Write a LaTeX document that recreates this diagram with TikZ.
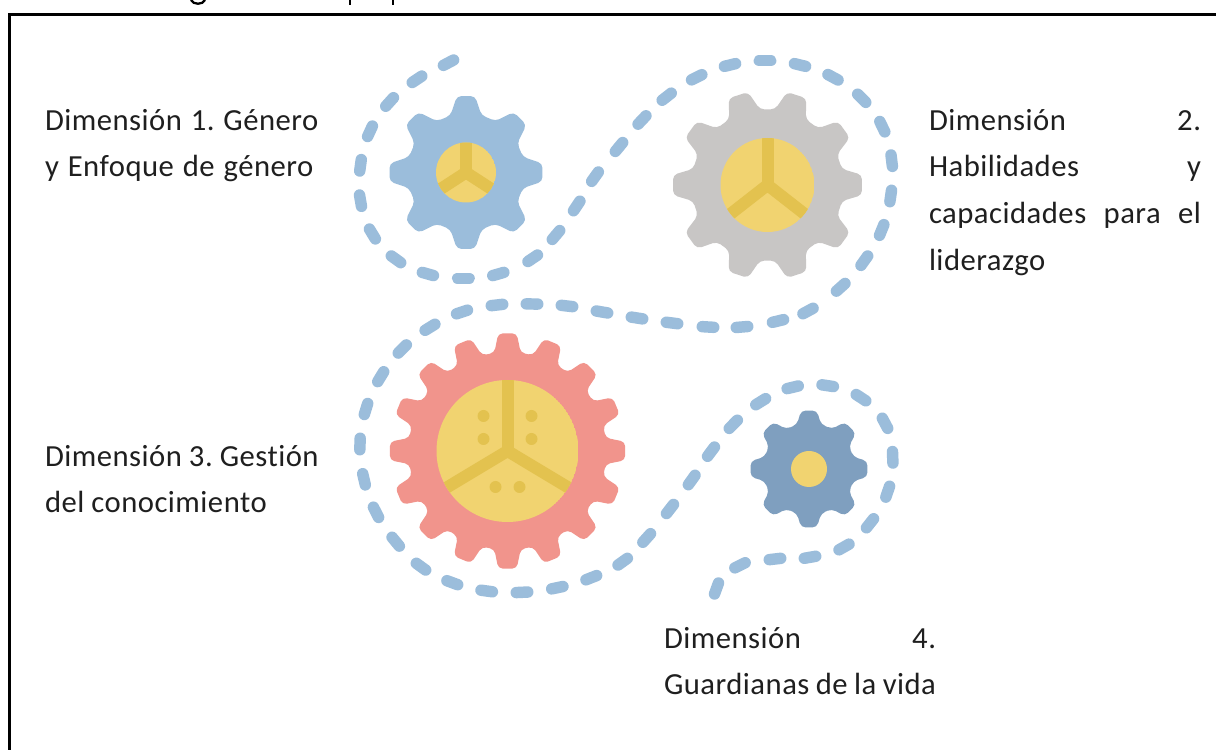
\documentclass[tikz,border=0pt]{standalone}
\usepackage{fontspec}
\setmainfont[LetterSpace=1.6,Ligatures=NoCommon]{Carlito}
\definecolor{dashblue}{HTML}{9BBDDB}
\definecolor{gearblue}{HTML}{9BBDDB}
\definecolor{geargray}{HTML}{C8C6C5}
\definecolor{gearred}{HTML}{F1948C}
\definecolor{gearsteel}{HTML}{7F9FBF}
\definecolor{hubyellow}{HTML}{F1D370}
\definecolor{hubdark}{HTML}{E3C24F}
\tikzset{
  trail/.style={draw=dashblue,line width=8.6pt,line cap=round},
  label/.style={anchor=north west,inner sep=0pt,outer sep=0pt,text width=#1,align=justify,font=\fontsize{23}{35}\selectfont\frenchspacing,text=black!88},
  spoke/.style={draw=hubdark,line cap=butt}
}
% cx cy outer root teeth colour start-angle tip-fraction
\newcommand{\gearshape}[8]{%
  \pgfmathsetmacro{\gstep}{360/#5}%
  \fill[#6,rounded corners=3.4pt]
    ({#1+#4*cos(#7-\gstep*0.5)},{#2-#4*sin(#7-\gstep*0.5)})
    \foreach \k in {1,...,#5}{
      -- ({#1+#4*cos(#7+(\k-1)*\gstep-\gstep*0.34)},{#2-#4*sin(#7+(\k-1)*\gstep-\gstep*0.34)})
      -- ({#1+#3*cos(#7+(\k-1)*\gstep-\gstep*#8)},{#2-#3*sin(#7+(\k-1)*\gstep-\gstep*#8)})
      -- ({#1+#3*cos(#7+(\k-1)*\gstep+\gstep*#8)},{#2-#3*sin(#7+(\k-1)*\gstep+\gstep*#8)})
      -- ({#1+#4*cos(#7+(\k-1)*\gstep+\gstep*0.34)},{#2-#4*sin(#7+(\k-1)*\gstep+\gstep*0.34)})
    } -- cycle;}
% cx cy radius spokewidth armangle
\newcommand{\hub}[5]{%
  \begin{scope}
    \clip (#1,#2) circle[radius=#3];
    \fill[hubyellow] (#1,#2) circle[radius=#3];
    \draw[spoke,line width=#4*0.75pt]
      (#1,#2-#3) -- (#1,#2) ;
    \draw[spoke,line width=#4*0.75pt,line join=miter]
      ({#1-#3*cos(#5)*1.2},{#2+#3*sin(#5)*1.2}) -- (#1,#2) -- ({#1+#3*cos(#5)*1.2},{#2+#3*sin(#5)*1.2});
  \end{scope}}
\begin{document}
\begin{tikzpicture}[x=0.75pt,y=0.75pt]
\useasboundingbox (0,0) rectangle (1216,749);
\begin{scope}[yscale=-1,shift={(0,-749)}]
\clip (0,0) rectangle (1216,749);
\fill[white] (0,0) rectangle (1216,749);
% tails of a cropped heading above the frame
\draw[black,line width=1.7pt] (191,0) .. controls (193,5) and (203,5) .. (205,0);
\draw[black,line width=1.7pt] (350,0) -- (350,5);
\draw[black,line width=1.7pt] (393,0) -- (393,5);
\draw[black,line width=2.1pt] (9.5,760) -- (9.5,14.7) -- (1230,14.7);
\foreach \cx/\cy [remember=\bx as \ax (initially 448.5),remember=\by as \ay (initially 62.7),remember=\cx as \bx (initially 448.5),remember=\cy as \by (initially 62.7)] in {
 417/79.3,389.6/102,370/131.3,360.5/165.3,360.5/200.7,372.4/234,396/259.3,427.9/274,463.4/278.3,498.3/274,532.7/258.3,556/235,576.7/206,595/176.7,619/147,642/120,666.7/96.7,696.7/77.3,730/65,765/60.7,800/65,833/77.3,861.7/98.3,882.3/126.7,891.7/160.7,890.7/196,881.7/230,864.3/260.7,840.7/287.3,808/311,778/321,742/327,708/327,672/323,637/318,602/312,567/306,532/304,497/305,462/312,430/327.3,402.3/349,380.7/376.7,366/409,360/444,364/479.3,376/512.3,395.7/541.7,421/566.7,452.3/582.7,486.7/591,522/592.3,557.3/587.7,591.3/577.7,622.7/561.7,646.7/538,670/509,691.7/480,711/451.7,733.3/424.3,760.7/401.7,792.7/387.3,827.7/385.7,861/397.7,885/423.3,892.7/457.3,887.7/491.7,870/523.3,844/547,810/557.3,775/559,740/565.3,716/588.3}{
  \pgfmathsetmacro{\ang}{atan2(\cy-\ay,\cx-\ax)}
  \draw[trail] ({\bx-5.75*cos(\ang)},{\by-5.75*sin(\ang)}) -- ({\bx+5.75*cos(\ang)},{\by+5.75*sin(\ang)});
}
\draw[trail] (718.5,583) -- (714.5,594);
\gearshape{466}{172.5}{77}{59}{8}{gearblue}{90}{0.15}
\hub{466}{172.5}{30}{12}{33}
\gearshape{767.5}{185}{95}{76}{10}{geargray}{0}{0.17}
\hub{767.5}{185}{47}{12}{38}
\gearshape{507.5}{451}{118}{99}{16}{gearred}{90}{0.20}
\hub{507.5}{451}{71}{12}{31}
\foreach \dx/\dy in {-24/-35,24/-35,-24/-12,24/-12,-12/36,12/36}
  \fill[hubdark] (507.5+\dx,451+\dy) circle[radius=6];
\gearshape{809}{469}{59}{46}{8}{gearsteel}{90}{0.17}
\fill[hubyellow] (809,469) circle[radius=18];
\end{scope}
\node[label=300*0.75pt,align=left] (d1) at (45,749-109) {\spaceskip=0.29em Dimensión 1. Género\\ y Enfoque de género};
\node[label=272*0.75pt] (d2) at (929,749-109) {Dimensión 2.\linebreak Habilidades y\linebreak capacidades para el\linebreak liderazgo};
\node[label=300*0.75pt,align=left] (d3) at (45,749-445) {\spaceskip=0.23em Dimensión 3. Gestión\\ del conocimiento};
\node[label=272*0.75pt] (d4) at (664,749-627) {\parfillskip=0pt\relax Dimensión 4.\linebreak Guardianas de la vida};
\end{tikzpicture}
\end{document}
